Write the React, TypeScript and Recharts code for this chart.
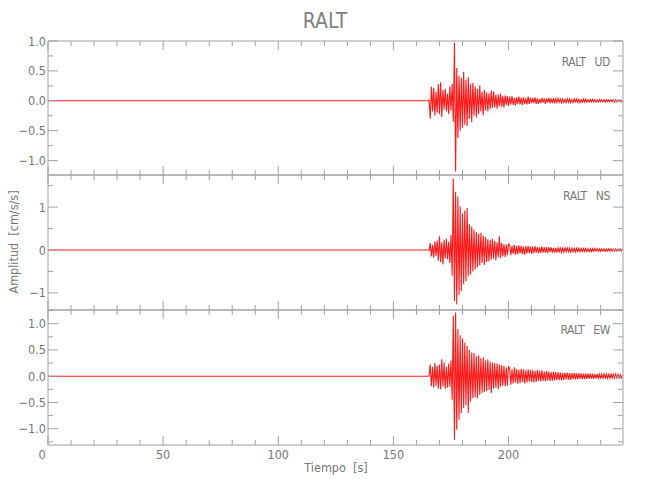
import React from "react";
import { Line, LineChart, XAxis, YAxis } from "recharts";

// sampled trace: quiet part, then 0.5 s samples from 165 s on
const QUIET_TIMES = [0, 164.5];
const TRACE_START = 165;
const TRACE_STEP = 0.5;

const X_TICKS = [0, 10, 20, 30, 40, 50, 60, 70, 80, 90, 100, 110, 120, 130, 140, 150, 160, 170, 180, 190, 200, 210, 220, 230, 240];

const UD_VALUES = [
  0.0, 0.01, -0.3, 0.24, -0.18, 0.22, -0.25, 0.15, -0.2, 0.28, -0.22, 0.31, -0.27, 0.18, -0.14, 0.2, -0.18, 0.12, -0.22, 0.24,
  -0.16, 0.28, -0.35, 0.97, -1.18, 0.55, -0.62, 0.42, -0.5, 0.38, -0.45, 0.48, -0.4, 0.35, -0.42, 0.4, -0.3, 0.28, -0.36, 0.3,
  -0.25, 0.24, -0.28, 0.2, -0.22, 0.26, -0.18, 0.15, -0.24, 0.18, -0.16, 0.14, -0.18, 0.12, -0.14, 0.17, -0.12, 0.16, -0.11, 0.1,
  -0.13, 0.11, -0.09, 0.12, -0.1, 0.08, -0.11, 0.09, -0.07, 0.08, -0.09,
  0.07, -0.06, 0.08, -0.07, 0.05, -0.08, 0.06, -0.05, 0.07, -0.06, 0.05, -0.07, 0.06, -0.05, 0.04, -0.06, 0.07, -0.05, 0.05, -0.04,
  0.05, -0.04, 0.06, -0.05, 0.04, -0.05, 0.03, -0.04, 0.05, -0.03, 0.04, -0.05, 0.04, -0.03, 0.05, -0.04, 0.03, -0.04, 0.04, -0.03,
  0.035, -0.03, 0.04, -0.025, 0.03, -0.035, 0.03, -0.03, 0.025, -0.03, 0.035, -0.025, 0.03, -0.03, 0.025, -0.03, 0.03, -0.02, 0.03, -0.025,
  0.025, -0.03, 0.02, -0.025, 0.03, -0.02, 0.025, -0.025, 0.02, -0.02,
  0.02, -0.02, 0.025, -0.015, 0.02, -0.02, 0.015, -0.02, 0.02, -0.015, 0.02, -0.015, 0.015, -0.02, 0.02, -0.015, 0.015, -0.015, 0.02, -0.015,
  0.015, -0.02, 0.015, -0.015, 0.015, -0.01, 0.015, -0.015, 0.01,
];

const NS_VALUES = [
  0.0, -0.01, 0.16, -0.15, 0.12, -0.18, 0.2, -0.14, 0.22, -0.25, 0.32, -0.28, 0.18, -0.34, 0.24, -0.2, 0.26, -0.22, 0.19, -0.3,
  0.35, -0.6, 1.67, -1.19, 1.36, -1.27, 1.25, -1.05, 1.02, -0.95, 0.85, -0.8, 0.92, -0.73, 0.98, -0.62, 0.6, -0.57, 0.55, -0.5,
  0.48, -0.45, 0.42, -0.4, 0.38, -0.36, 0.4, -0.3, 0.33, -0.35, 0.3, -0.28, 0.25, -0.27, 0.24, -0.22, 0.26, -0.2, 0.21, -0.24,
  0.18, -0.17, 0.32, -0.19, 0.16, -0.15, 0.14, -0.16, 0.13, -0.12, 0.14,
  0.11, -0.12, 0.1, -0.09, 0.12, -0.11, 0.09, -0.1, 0.11, -0.08, 0.1, -0.09, 0.08, -0.11, 0.09, -0.08, 0.1, -0.07, 0.08, -0.09,
  0.08, -0.07, 0.09, -0.06, 0.07, -0.08, 0.06, -0.07, 0.08, -0.06, 0.07, -0.06, 0.06, -0.07, 0.07, -0.05, 0.06, -0.06, 0.05, -0.06,
  0.05, -0.06, 0.05, -0.04, 0.06, -0.05, 0.04, -0.05, 0.05, -0.04, 0.05, -0.04, 0.04, -0.05, 0.045, -0.04, 0.04, -0.045, 0.04, -0.035,
  0.04, -0.04, 0.035, -0.04, 0.035, -0.03, 0.04, -0.035, 0.03, -0.035,
  0.03, -0.035, 0.03, -0.03, 0.035, -0.025, 0.03, -0.03, 0.025, -0.03, 0.03, -0.025, 0.025, -0.03, 0.025, -0.025, 0.03, -0.02, 0.025, -0.025,
  0.02, -0.025, 0.025, -0.02, 0.02, -0.02, 0.025, -0.02, 0.02,
];

const EW_VALUES = [
  0.0, 0.01, 0.22, -0.19, 0.18, -0.22, 0.25, -0.18, 0.2, -0.24, 0.22, -0.25, 0.32, -0.2, 0.26, -0.24, 0.18, -0.22, 0.24, -0.2,
  0.3, -0.45, 1.15, -1.21, 1.21, -1.02, 0.9, -0.83, 0.78, -0.7, 0.72, -0.6, 0.64, -0.55, 0.58, -0.7, 0.5, -0.48, 0.45, -0.42,
  0.44, -0.4, 0.38, -0.42, 0.4, -0.36, 0.34, -0.32, 0.36, -0.3, 0.3, -0.28, 0.32, -0.26, 0.28, -0.32, 0.26, -0.24, 0.25, -0.22,
  0.24, -0.25, 0.22, -0.2, 0.21, -0.18, 0.2, -0.19, 0.17, -0.18, 0.18,
  0.15, -0.16, 0.13, -0.14, 0.17, -0.12, 0.14, -0.15, 0.12, -0.13, 0.14, -0.11, 0.13, -0.14, 0.11, -0.12, 0.13, -0.1, 0.12, -0.11,
  0.11, -0.12, 0.1, -0.11, 0.12, -0.09, 0.1, -0.1, 0.11, -0.09, 0.09, -0.1, 0.1, -0.08, 0.09, -0.09, 0.08, -0.09, 0.09, -0.08,
  0.08, -0.07, 0.08, -0.07, 0.07, -0.08, 0.06, -0.07, 0.07, -0.06, 0.07, -0.065, 0.06, -0.07, 0.06, -0.055, 0.065, -0.06, 0.055, -0.06,
  0.06, -0.05, 0.055, -0.055, 0.05, -0.055, 0.05, -0.05, 0.055, -0.045,
  0.05, -0.045, 0.045, -0.05, 0.04, -0.045, 0.045, -0.04, 0.04, -0.045, 0.04, -0.04, 0.045, -0.035, 0.04, -0.04, 0.035, -0.04, 0.04, -0.035,
  0.035, -0.035, 0.04, -0.03, 0.035, -0.035, 0.03, -0.035, 0.03,
];

const UD_TICKS = [-1, -0.75, -0.5, -0.25, 0, 0.25, 0.5, 0.75, 1];
const NS_TICKS = [-1, -0.5, 0, 0.5, 1, 1.5];
const EW_TICKS = [-1.25, -1, -0.75, -0.5, -0.25, 0, 0.25, 0.5, 0.75, 1, 1.25];

const AXIS = "#a0a0a0";
const INK = "#777777";
const FONT = "'Liberation Sans Narrow', 'DejaVu Sans Condensed', 'DejaVu Sans', sans-serif";

function buildRows(values: number[]) {
  const rows = QUIET_TIMES.map((t) => ({ t, v: 0 }));
  values.forEach((v, i) => rows.push({ t: TRACE_START + TRACE_STEP * i, v }));
  return rows;
}

const fmt1 = (v: number) => (v < 0 ? "\u2212" + Math.abs(v).toFixed(1) : v.toFixed(1));
const fmt0 = (v: number) => (v < 0 ? "\u2212" + Math.abs(v) : String(v));

function xTick(dir: number, labels: boolean) {
  return (props: any) => {
    const { x, y, payload } = props;
    const major = payload.value % 50 === 0;
    return (
      <g>
        <line x1={x} y1={y} x2={x} y2={y + dir * (major ? 9 : 5)} stroke={AXIS} />
        {labels && major && (
          <text x={x} dx={payload.value === 0 ? -6 : 0} y={y + 14} textAnchor="middle" fill={INK} fontSize={12.5}
            fontFamily={FONT} fontStretch="condensed">
            {payload.value}
          </text>
        )}
      </g>
    );
  };
}

function yTick(dir: number, isMajor: (v: number) => boolean, fmt: ((v: number) => string) | null) {
  return (props: any) => {
    const { x, y, payload } = props;
    const major = isMajor(payload.value);
    return (
      <g>
        <line x1={x} y1={y} x2={x + dir * (major ? 10 : 5)} y2={y} stroke={AXIS} />
        {fmt && major && (
          <text x={x - 2} y={y + 4.5} textAnchor="end" fill={INK} fontSize={12.5} fontFamily={FONT} fontStretch="condensed">
            {fmt(payload.value)}
          </text>
        )}
      </g>
    );
  };
}

type PanelProps = {
  top: number;
  height: number;
  values: number[];
  domain: [number, number];
  ticks: number[];
  isMajor: (v: number) => boolean;
  fmt: (v: number) => string;
  xLabels?: boolean;
};

function Panel({ top, height, values, domain, ticks, isMajor, fmt, xLabels }: PanelProps) {
  const bottomPad = xLabels ? 30 : 10;
  return (
    <div style={{ position: "absolute", left: 0, top: top - 10 }}>
      <LineChart width={650} height={height + 10 + bottomPad} data={buildRows(values)} margin={{ top: 9, right: 26, bottom: bottomPad - 1, left: 0 }}>
        <XAxis xAxisId="b" dataKey="t" type="number" domain={[0, 249.7]} allowDataOverflow ticks={X_TICKS} interval={0}
          height={1} tickSize={0} tickMargin={0} tickLine={false} axisLine={{ stroke: AXIS }} tick={xTick(-1, !!xLabels)} />
        <XAxis xAxisId="t" orientation="top" dataKey="t" type="number" domain={[0, 249.7]} allowDataOverflow ticks={X_TICKS} interval={0}
          height={1} tickSize={0} tickMargin={0} tickLine={false} axisLine={{ stroke: AXIS }} tick={xTick(1, false)} />
        <YAxis yAxisId="l" type="number" domain={domain} allowDataOverflow ticks={ticks} interval={0}
          width={48} tickSize={0} tickMargin={0} tickLine={false} axisLine={{ stroke: AXIS }} tick={yTick(1, isMajor, fmt)} />
        <YAxis yAxisId="r" orientation="right" type="number" domain={domain} allowDataOverflow ticks={ticks} interval={0}
          width={1} tickSize={0} tickMargin={0} tickLine={false} axisLine={{ stroke: AXIS }} tick={yTick(-1, isMajor, null)} />
        <Line xAxisId="b" yAxisId="l" type="linear" dataKey="v" stroke="#ff0000" strokeWidth={1.1} strokeOpacity={0.9}
          dot={false} isAnimationActive={false} />
      </LineChart>
    </div>
  );
}

const textStyle: React.CSSProperties = {
  position: "absolute",
  fontFamily: FONT,
  fontStretch: "condensed",
  color: INK,
  whiteSpace: "pre",
  lineHeight: 1,
};

const panelLabel: React.CSSProperties = { ...textStyle, right: 40, fontSize: 12, letterSpacing: -0.4 };

export default function App() {
  return (
    <div style={{ position: "absolute", left: 0, top: 0, width: 650, height: 500, background: "#fff" }}>
      <Panel top={41} height={134} values={UD_VALUES} domain={[-1.24, 1.0]} ticks={UD_TICKS}
        isMajor={(v) => Math.abs(v * 2 - Math.round(v * 2)) < 1e-6} fmt={fmt1} />
      <Panel top={175} height={135} values={NS_VALUES} domain={[-1.4, 1.75]} ticks={NS_TICKS}
        isMajor={(v) => Number.isInteger(v)} fmt={fmt0} />
      <Panel top={310} height={135} values={EW_VALUES} domain={[-1.31, 1.26]} ticks={EW_TICKS}
        isMajor={(v) => Math.abs(v * 2 - Math.round(v * 2)) < 1e-6} fmt={fmt1} xLabels />

      <div style={{ ...textStyle, left: 0, width: 650, top: 11, textAlign: "center", fontSize: 21, color: "#808080" }}>RALT</div>
      <div style={{ ...panelLabel, top: 56 }}>{"RALT   UD"}</div>
      <div style={{ ...panelLabel, top: 190 }}>{"RALT   NS"}</div>
      <div style={{ ...panelLabel, top: 324 }}>{"RALT   EW"}</div>
      <div style={{ ...textStyle, left: 336, top: 462, transform: "translateX(-50%)", fontSize: 12.5 }}>{"Tiempo  [s]"}</div>
      <div style={{ ...textStyle, left: 14, top: 242, transform: "translate(-50%, -50%) rotate(-90deg)", fontSize: 12.5 }}>
        {"Amplitud  [cm/s/s]"}
      </div>
    </div>
  );
}
